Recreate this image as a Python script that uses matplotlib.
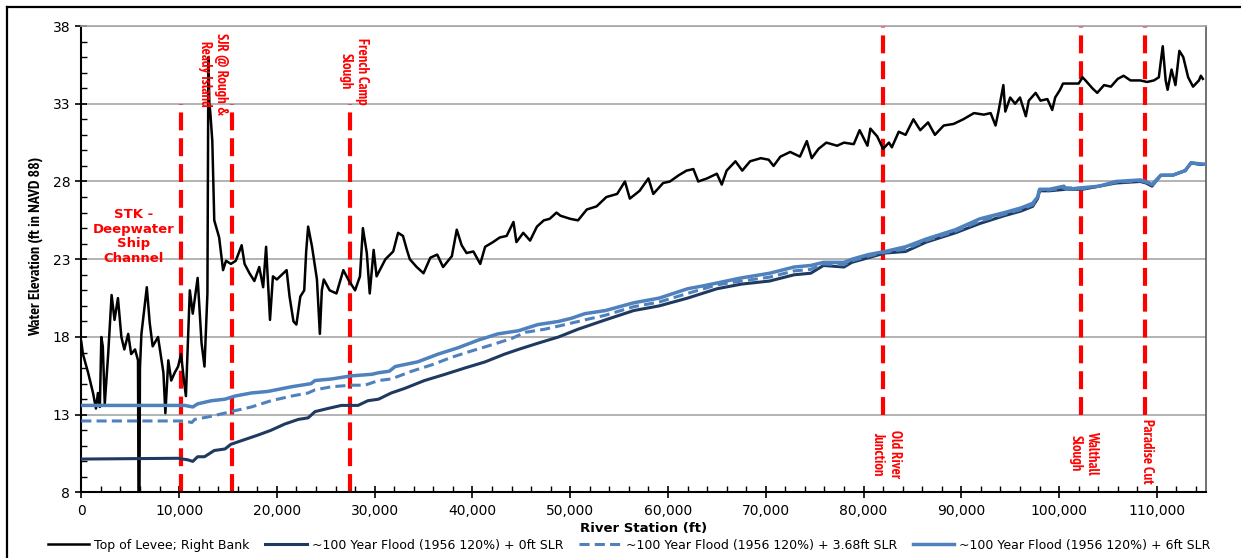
import matplotlib
matplotlib.use("Agg")
import matplotlib.pyplot as plt
from matplotlib import font_manager as fm
from matplotlib.lines import Line2D
from matplotlib.ticker import MultipleLocator, FuncFormatter

# river station (thousand ft) and elevation (ft NAVD 88)
levee_x = [0, 0.17, 0.7, 1.2, 1.5, 1.7, 1.9, 2.05, 2.2, 2.4, 2.75, 3.1, 3.4, 3.75, 4.1,
           4.4, 4.8, 5.1, 5.5, 5.8, 5.85, 5.95, 6.0, 6.15, 6.7, 7.0, 7.3, 7.85, 8.4, 8.6,
           8.9, 9.2, 9.55, 9.9, 10.2, 10.5, 10.7, 11.1, 11.4, 11.9, 12.3, 12.6, 12.9, 13.0,
           13.1, 13.2, 13.4, 13.6, 14.1, 14.5, 14.8, 15.3, 15.8, 16.4, 16.7, 17.2, 17.7,
           18.2, 18.6, 18.9, 19.3, 19.6, 20.0, 20.5, 21.0, 21.3, 21.7, 22.0, 22.4, 22.8,
           23.0, 23.2, 23.6, 24.1, 24.4, 24.6, 24.8, 25.4, 26.1, 26.8, 27.3, 28.0, 28.5,
           28.8, 29.2, 29.5, 29.9, 30.2, 31.1, 31.9, 32.4, 32.9, 33.3, 33.6, 34.3, 35.0,
           35.7, 36.4, 37.0, 37.9, 38.4, 38.9, 39.4, 40.1, 40.8, 41.3, 42.1, 42.8, 43.5,
           44.2, 44.5, 45.2, 45.9, 46.6, 47.3, 47.9, 48.6, 49.0, 50.0, 50.8, 51.7, 52.7,
           53.7, 54.8, 55.6, 56.1, 57.1, 58.0, 58.5, 59.5, 60.2, 61.1, 61.9, 62.6, 63.1,
           64.0, 65.0, 65.5, 66.0, 66.9, 67.6, 68.4, 69.5, 70.3, 70.8, 71.5, 72.5, 73.5,
           74.2, 74.7, 75.4, 76.2, 77.3, 78.0, 79.0, 79.6, 80.4, 80.7, 81.4, 82.0, 82.6,
           82.9, 83.6, 84.3, 85.1, 85.8, 86.6, 87.3, 88.2, 89.2, 90.2, 91.3, 92.3, 93.0,
           93.5, 93.8, 94.3, 94.5, 95.0, 95.5, 96.0, 96.6, 96.9, 97.6, 98.1, 98.8, 99.3,
           99.6, 100.1, 100.4, 102.0, 102.4, 102.7, 103.4, 103.9, 104.6, 105.3, 106.0,
           106.6, 107.3, 108.3, 109.0, 109.7, 110.2, 110.6, 110.9, 111.1, 111.5, 111.9,
           112.3, 112.7, 113.2, 113.7, 114.3, 114.5, 114.7]
levee_y = [17.7, 16.9, 15.7, 14.4, 13.4, 14.4, 13.5, 18.0, 17.4, 13.7, 16.9, 20.7, 19.1, 20.5, 18.0,
           17.2, 18.2, 16.9, 17.2, 16.5, 8.0, 8.0, 16.0, 18.2, 21.2, 18.9, 17.4, 18.0, 15.7, 13.1,
           16.5, 15.2, 15.7, 16.1, 16.9, 15.2, 14.2, 21.0, 19.5, 21.8, 17.6, 16.1, 20.8, 36.0,
           33.0, 32.4, 30.6, 25.5, 24.4, 22.3, 22.9, 22.7, 22.9, 23.9, 22.7, 22.1, 21.6,
           22.5, 21.2, 23.8, 19.1, 21.9, 21.7, 22.0, 22.3, 20.6, 19.0, 18.8, 20.6, 21.0,
           23.5, 25.1, 23.8, 21.7, 18.2, 21.0, 21.7, 21.0, 20.8, 22.3, 21.7, 21.0, 21.9,
           25.0, 23.4, 20.8, 23.6, 21.9, 23.0, 23.5, 24.7, 24.5, 23.6, 23.0, 22.5, 22.1,
           23.1, 23.3, 22.5, 23.2, 24.9, 23.9, 23.4, 23.5, 22.7, 23.8, 24.1, 24.4, 24.5,
           25.4, 24.1, 24.7, 24.2, 25.1, 25.5, 25.6, 26.0, 25.8, 25.6, 25.5, 26.2, 26.4,
           27.0, 27.2, 28.0, 26.9, 27.4, 28.2, 27.2, 27.9, 28.0, 28.4, 28.7, 28.8, 28.0,
           28.2, 28.5, 27.8, 28.7, 29.3, 28.7, 29.3, 29.5, 29.4, 29.0, 29.6, 29.9, 29.6,
           30.6, 29.5, 30.1, 30.5, 30.3, 30.5, 30.4, 31.3, 30.3, 31.4, 30.9, 30.1, 30.5,
           30.2, 31.2, 31.0, 32.0, 31.3, 31.8, 31.0, 31.6, 31.7, 32.0, 32.4, 32.3, 32.4,
           31.6, 32.5, 34.2, 32.5, 33.4, 33.0, 33.4, 32.2, 33.2, 33.7, 33.2, 33.3, 32.6,
           33.4, 33.9, 34.3, 34.3, 34.7, 34.5, 34.0, 33.7, 34.2, 34.1, 34.6,
           34.8, 34.5, 34.5, 34.4, 34.5, 34.7, 36.7, 34.5, 33.9, 35.2, 34.2,
           36.4, 36.0, 34.7, 34.1, 34.5, 34.8, 34.6]

slr0_x = [0, 9.9, 10.9, 11.4, 11.9, 12.6, 13.6, 14.7, 15.3, 16.7, 18.1, 19.4, 20.8, 22.2,
          23.2, 23.9, 25.2, 26.6, 28.3, 29.3, 30.4, 31.7, 33.1, 35.1, 37.2, 39.2, 41.3,
          43.3, 44.7, 46.7, 48.8, 50.8, 53.6, 56.5, 59.1, 62.0, 65.0, 67.5, 70.4, 72.9,
          74.6, 75.9, 78.0, 78.8, 80.5, 82.2, 84.3, 86.4, 89.4, 91.9, 94.4, 96.1, 97.3,
          97.8, 98.0, 99.0, 100.7, 102.4, 104.1, 105.8, 108.3, 108.9, 109.5, 110.4,
          111.6, 112.9, 113.5, 114.4, 115.0]
slr0_y = [10.15, 10.2, 10.1, 10.0, 10.3, 10.3, 10.7, 10.8, 11.1, 11.4, 11.7, 12.0, 12.4, 12.7,
          12.8, 13.2, 13.4, 13.6, 13.6, 13.9, 14.0, 14.4, 14.7, 15.2, 15.6, 16.0, 16.4,
          16.9, 17.2, 17.6, 18.0, 18.5, 19.1, 19.7, 20.0, 20.5, 21.1, 21.4, 21.6, 22.0,
          22.1, 22.6, 22.5, 22.8, 23.1, 23.4, 23.5, 24.1, 24.7, 25.3, 25.8, 26.1, 26.4,
          26.9, 27.4, 27.4, 27.5, 27.5, 27.7, 27.9, 28.0, 27.9, 27.7, 28.4,
          28.4, 28.7, 29.2, 29.1, 29.1]

slr368_x = [0, 10.6, 11.3, 11.6, 13.3, 15.3, 17.4, 19.4, 21.5, 23.2, 23.9, 25.6, 27.6, 29.0,
            30.4, 31.7, 33.8, 35.8, 37.9, 39.9, 42.0, 44.0, 45.4, 47.4, 49.5, 51.5, 53.6,
            56.5, 59.1, 62.0, 65.0, 67.5, 70.4, 72.9, 74.6, 75.9, 78.0, 78.8, 80.5, 82.2,
            84.3, 86.4, 89.4, 91.9, 94.4, 96.1, 97.3, 97.8, 98.0, 99.0, 100.7, 102.4,
            104.1, 105.8, 108.3, 108.9, 109.5, 110.4, 111.6, 112.9, 113.5, 114.4, 115.0]
slr368_y = [12.6, 12.6, 12.5, 12.7, 12.9, 13.2, 13.5, 13.9, 14.2, 14.4, 14.6, 14.8, 14.9, 14.9,
            15.2, 15.3, 15.8, 16.2, 16.7, 17.1, 17.5, 17.9, 18.3, 18.5, 18.8, 19.1, 19.4,
            19.95, 20.25, 20.8, 21.35, 21.6, 21.85, 22.25, 22.35, 22.7, 22.65, 22.9, 23.2, 23.45,
            23.65, 24.2, 24.8, 25.45, 25.9, 26.2, 26.5, 26.95, 27.45, 27.45, 27.6, 27.55,
            27.7, 27.95, 28.05, 27.95, 27.75, 28.4, 28.4, 28.7, 29.2, 29.1, 29.1]

slr6_x = [0, 10.6, 11.4, 11.9, 13.3, 14.7, 15.7, 17.4, 19.1, 21.5, 23.5, 23.9, 25.6, 27.6,
          29.7, 30.4, 31.5, 32.1, 34.4, 36.5, 38.5, 40.6, 42.6, 44.7, 46.7, 48.8, 50.1,
          51.5, 53.6, 56.5, 59.1, 62.0, 63.7, 67.5, 70.4, 72.9, 74.6, 75.9, 78.0, 78.8,
          80.5, 82.2, 84.3, 86.4, 89.4, 91.9, 94.4, 96.1, 97.3, 97.8, 98.0, 99.0, 100.5,
          100.7, 102.4, 104.1, 105.8, 108.3, 108.9, 109.5, 110.4, 111.6, 112.9, 113.5, 115.0]
slr6_y = [13.6, 13.6, 13.5, 13.7, 13.9, 14.0, 14.2, 14.4, 14.5, 14.8, 15.0, 15.2, 15.3, 15.5,
          15.6, 15.7, 15.8, 16.1, 16.4, 16.9, 17.3, 17.8, 18.2, 18.4, 18.8, 19.0, 19.2,
          19.5, 19.7, 20.2, 20.5, 21.1, 21.3, 21.8, 22.1, 22.5, 22.6, 22.8, 22.8, 23.0,
          23.3, 23.5, 23.8, 24.3, 24.9, 25.6, 26.0, 26.3, 26.6, 27.0, 27.5, 27.5, 27.7,
          27.5, 27.6, 27.7, 28.0, 28.1, 28.0, 27.8, 28.4, 28.4, 28.7, 29.2, 29.1]

# landmarks: station (thousand ft), label, label x, label top y
marks_x = [10.17, 15.45, 27.49, 81.98, 102.27, 108.82]
marks_upper = [True, True, True, False, False, False]
labels = ["SJR @ Rough &\nReady Island", "French Camp\nSlough",
          "Old River\nJunction", "Walthall\nSlough", "Paradise Cut"]
labels_x = [13.45, 27.85, 82.35, 102.5, 108.97]
labels_top = [37.55, 37.25, 12.05, 11.95, 12.7]

legend_names = ["Top of Levee; Right Bank", "~100 Year Flood (1956 120%) + 0ft SLR",
                "~100 Year Flood (1956 120%) + 3.68ft SLR",
                "~100 Year Flood (1956 120%) + 6ft SLR"]

RED = "#FF0000"
NAVY = "#1F3A60"
BLUE = "#4F81BD"


def weight_of(f):
    try:
        return int(f.weight)
    except (TypeError, ValueError):
        return 700 if "bold" in str(f.weight) else 400


# narrow face with a bold cut, for the red labels and the y label (Arial Narrow look)
fonts = fm.fontManager.ttflist
narrow_family = None
for cand in ["Liberation Sans Narrow", "Archivo Narrow", "PT Sans Narrow", "Roboto Condensed",
             "Fira Sans Condensed", "IBM Plex Sans Condensed", "Encode Sans Condensed",
             "Asap Condensed", "Open Sans Condensed", "Pragati Narrow"]:
    if any(f.name == cand and weight_of(f) >= 600 for f in fonts):
        narrow_family = cand
        break
if narrow_family is None:
    narrow_family, narrow_size = "Liberation Sans", 7.5
else:
    narrow_size = 10.5

fig = plt.figure(figsize=(12.41, 5.58), dpi=100)
ax = fig.add_axes([0.0655, 0.1174, 0.9061, 0.836])

k = lambda v: [t * 1000 for t in v]

ax.grid(axis="y", color="#A6A6A6", linewidth=1.2, zorder=0)
ax.set_axisbelow(True)

for xm, up in zip(marks_x, marks_upper):
    ymin, ymax = (8, 33) if up else (13, 38)
    ax.vlines(xm * 1000, ymin, ymax, color=RED, linewidth=3, linestyles=(0, (4.3, 1.9)), zorder=2)

ax.plot(k(levee_x), levee_y, color="black", linewidth=1.8, label=legend_names[0], zorder=3)
ax.plot(k(slr0_x), slr0_y, color=NAVY, linewidth=2.2, label=legend_names[1], zorder=4)
ax.plot(k(slr368_x), slr368_y, color=BLUE, linewidth=2.2, linestyle=(0, (3.3, 1.7)),
        label=legend_names[2], zorder=5)
ax.plot(k(slr6_x), slr6_y, color=BLUE, linewidth=2.5, label=legend_names[3], zorder=6)

for txt, lx, ly in zip(labels, labels_x, labels_top):
    ax.text(lx * 1000, ly, txt, rotation=270, ha="center", va="top", multialignment="center",
            color=RED, fontsize=narrow_size, fontweight="bold",
            family=[narrow_family, "DejaVu Sans"], zorder=7)

ax.text(5350, 24.45, "STK -\nDeepwater\nShip\nChannel", ha="center", va="center",
        color=RED, fontsize=9.5, fontweight="bold", linespacing=1.15, zorder=7)

ax.set_xlim(0, 115000)
ax.set_ylim(8, 38)
ax.xaxis.set_major_locator(MultipleLocator(10000))
ax.xaxis.set_minor_locator(MultipleLocator(2000))
ax.yaxis.set_minor_locator(MultipleLocator(1))
ax.set_yticks([8, 13, 18, 23, 28, 33, 38])
ax.xaxis.set_major_formatter(FuncFormatter(lambda v, p: f"{int(v):,}"))
ax.tick_params(which="major", direction="inout", length=8, width=1.2, labelsize=10, pad=4)
ax.tick_params(which="minor", direction="in", length=4, width=1)

for s in ["left", "bottom"]:
    ax.spines[s].set_linewidth(1.5)
    ax.spines[s].set_color("black")
ax.spines["right"].set_color("#595959")
ax.spines["right"].set_linewidth(1.2)
ax.spines["top"].set_color("#A6A6A6")
ax.spines["top"].set_linewidth(1.2)

ax.set_xlabel("River Station (ft)", fontweight="bold", fontsize=9.5, labelpad=3)
ax.set_ylabel("Water Elevation (ft in NAVD 88)", fontsize=narrow_size + 1, fontweight="bold",
              family=[narrow_family, "DejaVu Sans"])
ax.yaxis.set_label_coords(-0.034, 0.527)

fig.legend(loc="center", bbox_to_anchor=(0.507, 0.023), ncol=4, frameon=False, fontsize=9,
           handlelength=3.3, columnspacing=1.3, handletextpad=0.4)

# outer frame of the original chart
fig.add_artist(Line2D([6.5 / 1241, 6.5 / 1241], [0, 1 - 6.5 / 558], color="black", linewidth=1.6))
fig.add_artist(Line2D([6.5 / 1241, 1], [1 - 6.5 / 558, 1 - 6.5 / 558], color="black", linewidth=1.6))

fig.savefig("out.png", dpi=100)
